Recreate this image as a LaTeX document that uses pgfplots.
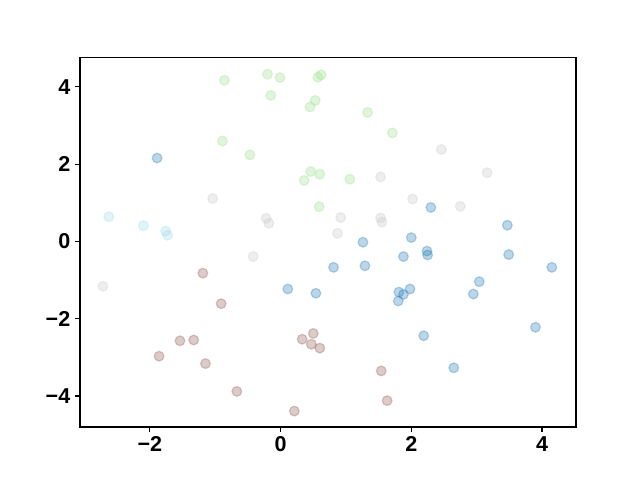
\documentclass[border=0pt]{standalone}
\usepackage{pgfplots}
\pgfplotsset{compat=1.18}
\usepackage{fontspec}
\setmainfont{Liberation Sans}
\definecolor{cblue}{HTML}{1F77B4}
\definecolor{cgreen}{HTML}{98DF8A}
\definecolor{ccyan}{HTML}{9EDAE5}
\definecolor{cgray}{HTML}{C7C7C7}
\definecolor{cbrown}{HTML}{8C564B}
\pgfplotsset{
  dot/.style={only marks, mark=*, mark size=3.5pt,
    mark options={fill=#1, draw=#1, fill opacity=0.3, draw opacity=0.3, line width=0.9pt}},
}
\begin{document}
\begin{tikzpicture}
\begin{axis}[
  at={(0,0)}, anchor=south west,
  scale only axis, width=357.1pt, height=265.7pt,
  xmin=-3.07, xmax=4.52, ymin=-4.80, ymax=4.75,
  xtick={-2,0,2,4}, xticklabels={−2,0,2,4},
  ytick={-4,-2,0,2,4}, yticklabels={−4,−2,0,2,4},
  tick align=outside, major tick length=3.5pt,
  tick style={black, line width=0.8pt},
  axis line style={line width=0.8pt},
  xtick pos=bottom, ytick pos=left,
  ticklabel style={font=\fontsize{15.5}{18}\selectfont\bfseries},
  clip=false,
]
% blue
\addplot[dot=cblue] coordinates {
(-1.89,2.16) (2.30,0.88) (3.47,0.42) (1.26,-0.02) (2.00,0.10)
(2.24,-0.25) (2.25,-0.35) (1.88,-0.39) (3.49,-0.34) (0.81,-0.67)
(1.29,-0.63) (4.15,-0.67) (3.04,-1.04) (1.98,-1.23) (1.81,-1.31)
(1.88,-1.37) (1.80,-1.54) (2.95,-1.36) (3.90,-2.22) (2.19,-2.44)
(2.65,-3.27) (0.11,-1.23) (0.54,-1.34)
};
% green
\addplot[dot=cgreen] coordinates {
(-0.86,4.17) (-0.20,4.33) (-0.01,4.24) (0.62,4.31) (0.57,4.25)
(-0.15,3.78) (0.53,3.65) (0.45,3.48) (-0.89,2.60) (-0.47,2.24)
(0.46,1.81) (0.60,1.74) (0.36,1.58) (0.59,0.90) (1.33,3.34)
(1.71,2.81) (1.06,1.61)
};
% cyan
\addplot[dot=ccyan] coordinates {
(-2.63,0.64) (-2.10,0.41) (-1.76,0.27) (-1.73,0.16)
};
% gray
\addplot[dot=cgray] coordinates {
(-1.04,1.11) (-0.22,0.60) (-0.18,0.47) (2.46,2.38) (1.53,1.67)
(3.16,1.78) (2.02,1.10) (2.75,0.91) (0.92,0.62) (1.53,0.61)
(1.55,0.50) (0.87,0.21) (-0.42,-0.39) (-2.72,-1.16)
};
% brown
\addplot[dot=cbrown] coordinates {
(-1.19,-0.82) (-0.91,-1.61) (-1.54,-2.57) (-1.33,-2.55) (-1.86,-2.97)
(-1.15,-3.16) (-0.67,-3.88) (0.21,-4.39) (0.50,-2.38) (0.33,-2.53)
(0.47,-2.66) (0.60,-2.76) (1.54,-3.35) (1.63,-4.12)
};
\end{axis}
\path[use as bounding box] (-57.6pt,-38.2pt) rectangle (403.2pt,307.4pt);
\end{tikzpicture}
\end{document}
